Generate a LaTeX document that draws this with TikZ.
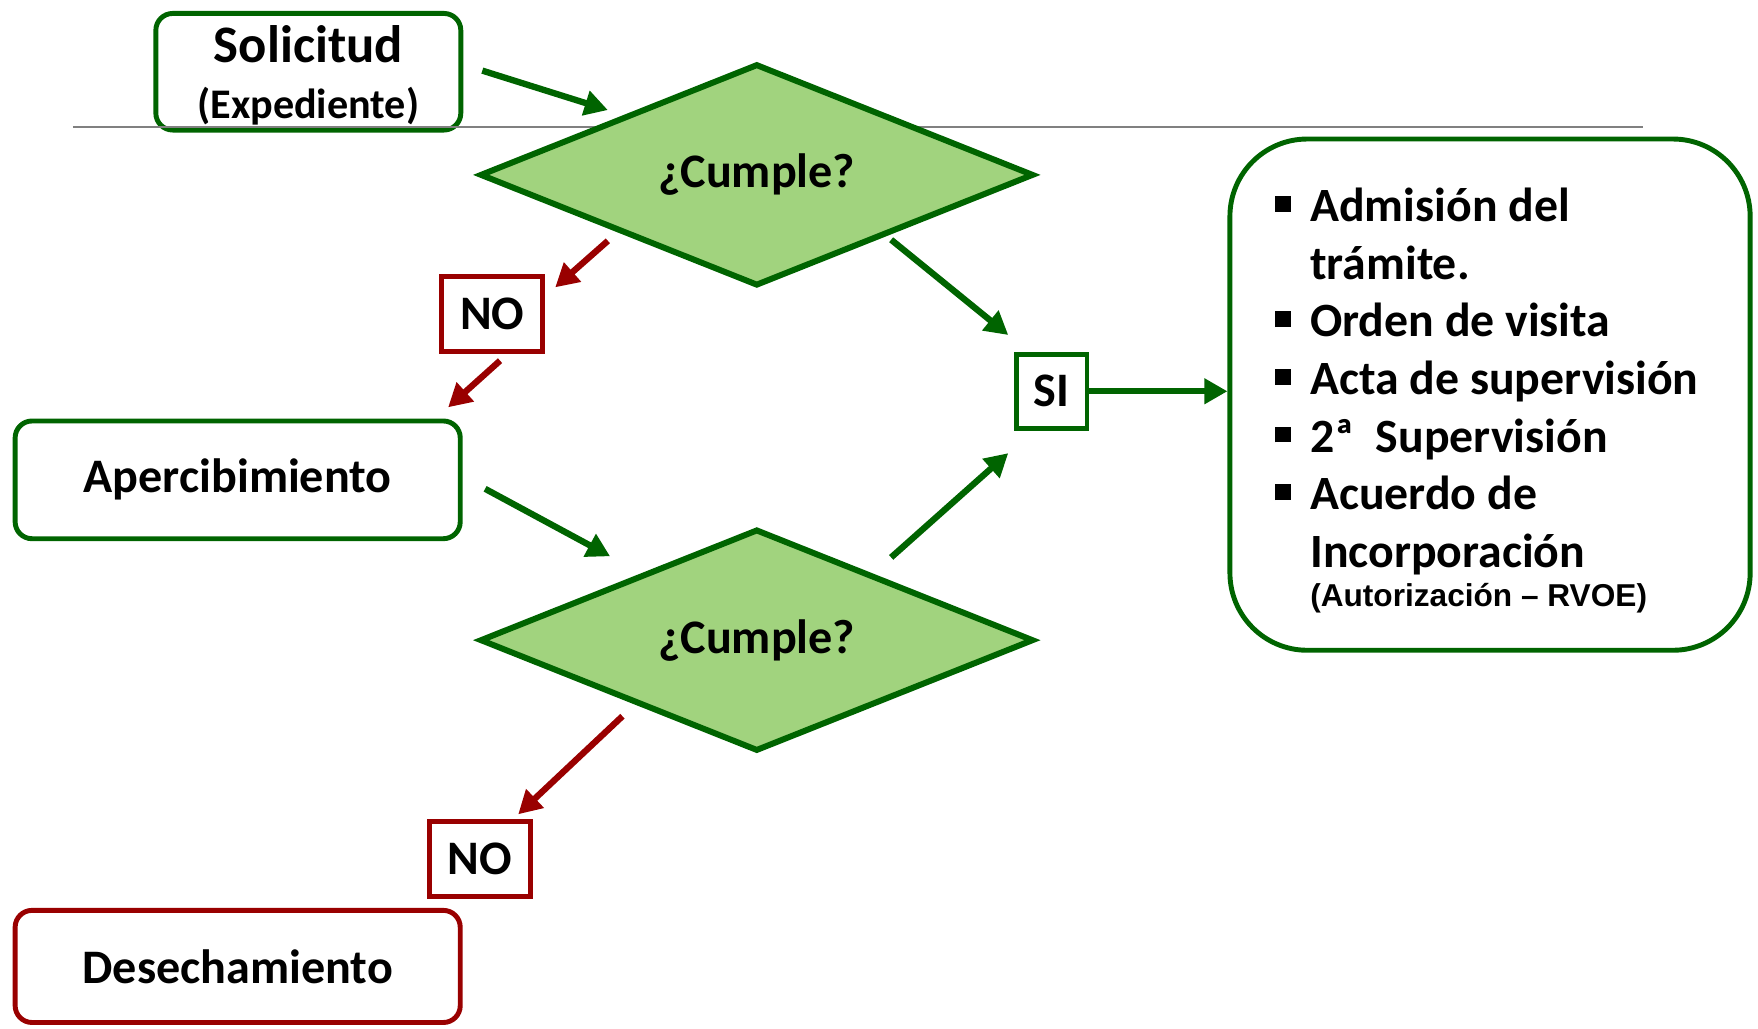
\documentclass[tikz,border=0pt]{standalone}
\usepackage{fontspec}
\setmainfont{Carlito}
\newfontfamily\arialfont{Liberation Sans}
\usepackage{xcolor}
\usetikzlibrary{shapes.geometric,arrows.meta}

\newcommand{\upx}{0.01121cm}
\newcommand{\sqbul}{\raisebox{0.2em}{\rule{4.5pt}{4.5pt}}}

\definecolor{dkgreen}{RGB}{0,100,0}
\definecolor{ltgreen}{RGB}{161,211,126}
\definecolor{dkred}{RGB}{153,0,0}

\tikzset{
  gbox/.style={rectangle, draw=dkgreen, line width=1.4pt, rounded corners=4.8pt,
    inner sep=0pt, align=center, font=\bfseries\fontsize{13.7}{16.4}\selectfont},
  rbox/.style={gbox, draw=dkred},
  answer/.style={rectangle, draw=#1, line width=1.4pt, inner sep=0pt,
    font=\bfseries\fontsize{13.7}{16.4}\selectfont},
  decision/.style={diamond, draw=dkgreen, fill=ltgreen, line width=1.7pt,
    aspect=2.5, inner sep=0pt, minimum width=494*\upx, minimum height=198*\upx,
    font=\bfseries\fontsize{13.7}{16.4}\selectfont},
  garrow/.style={-{Triangle[length=6.6pt,width=7pt]}, draw=dkgreen, line width=1.8pt},
  rarrow/.style={garrow, draw=dkred},
}

\begin{document}
\begin{tikzpicture}[x=0.01121cm, y=-0.01121cm]
\useasboundingbox (0,0) rectangle (1568,917);

\node[gbox, minimum width=272*\upx, minimum height=104*\upx,
  font=\bfseries\fontsize{15}{18}\selectfont] (sol) at (275,64)
  {Solicitud\\[-2pt]\raisebox{0pt}[\height][0pt]{\fontsize{12}{14}\selectfont (Expediente)}};

% regla gris
\coordinate (ruleL) at (65,113);
\coordinate (ruleR) at (1465,113);
\draw[gray, line width=0.6pt] (ruleL) -- (ruleR);

\node[decision] (cumple1) at (675,156) {¿Cumple?};
\node[decision] (cumple2) at (675,571) {¿Cumple?};

\node[answer=dkred, minimum width=90*\upx, minimum height=67*\upx] (no1) at (439,280) {NO};
\node[answer=dkred, minimum width=90*\upx, minimum height=67*\upx] (no2) at (428,766) {NO};
\node[answer=dkgreen, minimum width=63*\upx, minimum height=66*\upx] (si) at (938,349) {SI};

\node[gbox, minimum width=397*\upx, minimum height=105*\upx] (aperc) at (212,428) {Apercibimiento};
\node[rbox, minimum width=397*\upx, minimum height=100*\upx] (desech) at (212,862) {Desechamiento};

\node[gbox, rounded corners=22pt, minimum width=464*\upx, minimum height=456*\upx] (tramite) at (1329,352) {};
\node[anchor=north west, inner sep=0pt, align=left,
  font=\bfseries\fontsize{13.6}{16.4}\selectfont] (lista) at (1137,161) {%
  \begin{tabular}{@{}l@{\hspace{5.4pt}}l@{}}
  \sqbul & Admisión del\\
         & trámite.\\
  \sqbul & Orden de visita\\
  \sqbul & Acta de supervisión\\
  \sqbul & 2ª\ \ Supervisión\\
  \sqbul & Acuerdo de\\
         & Incorporación\\[-5.2pt]
         & {\arialfont\fontsize{9}{11}\selectfont (Autorización – RVOE)}
  \end{tabular}};

% flechas
\draw[garrow] ([shift={(17,-1)}]sol.east) -- ([shift={(-8,-7)}]cumple1.north west);
\draw[rarrow] ([shift={(-8,8)}]cumple1.south west) -- ([shift={(9,12)}]no1.north east);
\draw[rarrow] ([shift={(7,6)}]no1.south) -- ([shift={(-13,-10)}]aperc.north east);
\draw[garrow] ([shift={(20,8)}]aperc.east) -- ([shift={(-6,-24)}]cumple2.north west);
\draw[garrow] ([shift={(-5,7)}]cumple1.south east) -- ([shift={(-5,-15)}]si.north west);
\draw[garrow] ([shift={(-5,-23)}]cumple2.north east) -- ([shift={(-5,20)}]si.south west);
\draw[garrow] (si.east) -- (si.east -| tramite.west);
\draw[rarrow] ([shift={(5,17)}]cumple2.south west) -- ([shift={(-13,-4)}]no2.north east);
\end{tikzpicture}
\end{document}
